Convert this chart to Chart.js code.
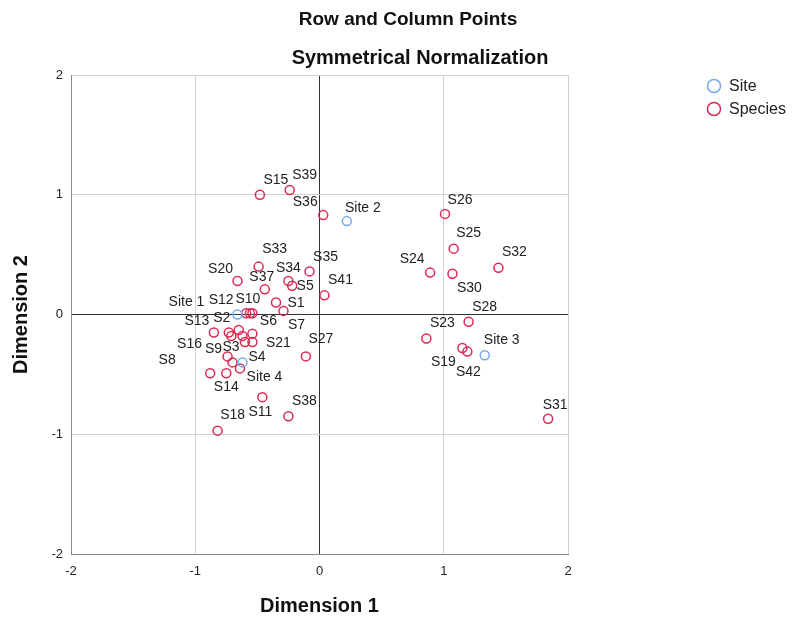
<!DOCTYPE html>
<html>
<head>
<meta charset="utf-8">
<script src="https://cdn.jsdelivr.net/npm/chart.js@4.4.0/dist/chart.umd.min.js"></script>
<style>
  html, body { margin: 0; padding: 0; background: #fff; }
  #wrap { width: 792px; height: 618px; }
</style>
</head>
<body>
<div id="wrap"><canvas id="chart"></canvas></div>
<script>
// row points (sites)
const siteNames = ['Site 1', 'Site 2', 'Site 3', 'Site 4'];
const siteX = [-0.66, 0.22, 1.33, -0.62];
const siteY = [0.00, 0.78, -0.34, -0.40];

// column points (species), '' = label hidden by overlap
const speciesNames = ['S1', 'S2', 'S3', 'S4', 'S5', 'S6', 'S7', 'S8', 'S9', 'S10',
  'S11', 'S12', 'S13', 'S14', 'S15', 'S16', 'S18', 'S19', 'S20', 'S21',
  'S23', 'S24', 'S25', 'S26', 'S27', 'S28', 'S30', 'S31', 'S32', 'S33',
  'S34', 'S35', 'S36', 'S37', 'S38', 'S39', 'S41', 'S42', '', '', '', ''];
const speciesX = [-0.35, -0.65, -0.60, -0.64, -0.22, -0.54, -0.29, -0.88, -0.70, -0.56,
  -0.46, -0.59, -0.85, -0.75, -0.48, -0.74, -0.82, 1.15, -0.66, -0.54,
  0.86, 0.89, 1.08, 1.01, -0.11, 1.20, 1.07, 1.84, 1.44, -0.49,
  -0.25, -0.08, 0.03, -0.44, -0.25, -0.24, 0.04, 1.19, -0.73, -0.71, -0.62, -0.54];
const speciesY = [0.10, -0.13, -0.23, -0.45, 0.24, 0.01, 0.03, -0.49, -0.40, 0.01,
  -0.69, 0.01, -0.15, -0.49, 1.00, -0.35, -0.97, -0.28, 0.28, -0.23,
  -0.20, 0.35, 0.55, 0.84, -0.35, -0.06, 0.34, -0.87, 0.39, 0.40,
  0.28, 0.36, 0.83, 0.21, -0.85, 1.04, 0.16, -0.31, -0.15, -0.18, -0.18, -0.16];

const tickValues = [-2, -1, 0, 1, 2];

// where each text label sits relative to its marker (px)
const labelOffset = {
  'Site 1': [-51, -12], 'Site 2': [16, -13], 'Site 3': [17, -15], 'Site 4': [22, 15],
  S1: [20, 1], S2: [-17, -12], S3: [-14, 5], S4: [17, -11], S5: [13, 0],
  S6: [16, 8], S7: [13, 14], S8: [-43, -13], S9: [-19, -13], S10: [-2, -14],
  S11: [-2, 15], S12: [-25, -13], S13: [-17, -11], S14: [0, 14], S15: [16, -15],
  S16: [-38, -12], S18: [15, -16], S19: [-19, 14], S20: [-17, -12], S21: [26, 1],
  S23: [16, -15], S24: [-18, -13], S25: [15, -15], S26: [15, -14], S27: [15, -17],
  S28: [16, -15], S30: [17, 14], S31: [7, -14], S32: [16, -16], S33: [16, -17],
  S34: [0, -13], S35: [16, -14], S36: [-18, -13], S37: [-3, -12], S38: [16, -15],
  S39: [15, -15], S41: [16, -15], S42: [1, 21]
};

const FONT = 'Arial, "Liberation Sans", sans-serif';
const siteColor = '#74a9ea';
const speciesColor = '#dc2a53';

function toPoints(xs, ys) {
  return xs.map((x, i) => ({ x: x, y: ys[i] }));
}

const pointLabels = {
  id: 'pointLabels',
  afterDatasetsDraw(chart) {
    const ctx = chart.ctx;
    ctx.save();
    ctx.font = '14px ' + FONT;
    ctx.fillStyle = '#222';
    ctx.textAlign = 'center';
    ctx.textBaseline = 'middle';
    chart.data.datasets.forEach((ds, di) => {
      const meta = chart.getDatasetMeta(di);
      meta.data.forEach((el, i) => {
        const name = ds.names[i];
        if (!name) return;
        const off = labelOffset[name] || [15, -15];
        ctx.fillText(name, el.x + off[0], el.y + off[1]);
      });
    });
    ctx.restore();
  }
};

// titles and legend sit off-centre like the SPSS output
const chrome = {
  id: 'chrome',
  afterDraw(chart) {
    const ctx = chart.ctx;
    ctx.save();
    ctx.fillStyle = '#111';
    ctx.textAlign = 'center';
    ctx.textBaseline = 'middle';
    ctx.font = 'bold 19px ' + FONT;
    ctx.fillText('Row and Column Points', 408, 20);
    ctx.font = 'bold 20px ' + FONT;
    ctx.fillText('Symmetrical Normalization', 420, 58);

    ctx.textAlign = 'left';
    ctx.font = '16px ' + FONT;
    chart.data.datasets.forEach((ds, i) => {
      const y = 86 + i * 23;
      ctx.beginPath();
      ctx.arc(714, y, 6.5, 0, Math.PI * 2);
      ctx.strokeStyle = ds.borderColor;
      ctx.lineWidth = 1.5;
      ctx.stroke();
      ctx.fillStyle = '#222';
      ctx.fillText(ds.label, 729, y + 1);
    });
    ctx.restore();
  }
};

function gridColor(ctx) {
  return ctx.tick && ctx.tick.value === 0 ? '#333' : '#d2d2d2';
}

new Chart(document.getElementById('chart'), {
  type: 'scatter',
  data: {
    datasets: [
      {
        label: 'Site',
        names: siteNames,
        data: toPoints(siteX, siteY),
        borderColor: siteColor,
        backgroundColor: 'rgba(0,0,0,0)',
        pointRadius: 4.5,
        pointBorderWidth: 1.5
      },
      {
        label: 'Species',
        names: speciesNames,
        data: toPoints(speciesX, speciesY),
        borderColor: speciesColor,
        backgroundColor: 'rgba(0,0,0,0)',
        pointRadius: 4.5,
        pointBorderWidth: 1.5
      }
    ]
  },
  options: {
    responsive: true,
    maintainAspectRatio: false,
    animation: false,
    layout: { padding: { left: 0, top: 75, right: 224, bottom: 0 } },
    plugins: {
      legend: { display: false },
      tooltip: { enabled: false }
    },
    scales: {
      x: {
        type: 'linear',
        min: -2,
        max: 2,
        afterFit: s => { s.height = 64; },
        afterBuildTicks: s => { s.ticks = tickValues.map(v => ({ value: v })); },
        ticks: { color: '#222', padding: 10, font: { family: FONT, size: 13 } },
        grid: { drawTicks: false, color: gridColor, lineWidth: 1 },
        border: { color: '#8a8a8a' },
        title: {
          display: true,
          text: 'Dimension 1',
          color: '#111',
          padding: { top: 0, bottom: 0 },
          font: { family: FONT, size: 20, weight: 'bold' }
        }
      },
      y: {
        type: 'linear',
        min: -2,
        max: 2,
        afterFit: s => { s.width = 71; },
        afterBuildTicks: s => { s.ticks = tickValues.map(v => ({ value: v })); },
        ticks: { color: '#222', padding: 8, font: { family: FONT, size: 13 } },
        grid: { drawTicks: false, color: gridColor, lineWidth: 1 },
        border: { color: '#8a8a8a' },
        title: {
          display: true,
          text: 'Dimension 2',
          color: '#111',
          padding: { top: 9, bottom: 0 },
          font: { family: FONT, size: 20, weight: 'bold' }
        }
      }
    }
  },
  plugins: [pointLabels, chrome]
});
</script>
</body>
</html>
